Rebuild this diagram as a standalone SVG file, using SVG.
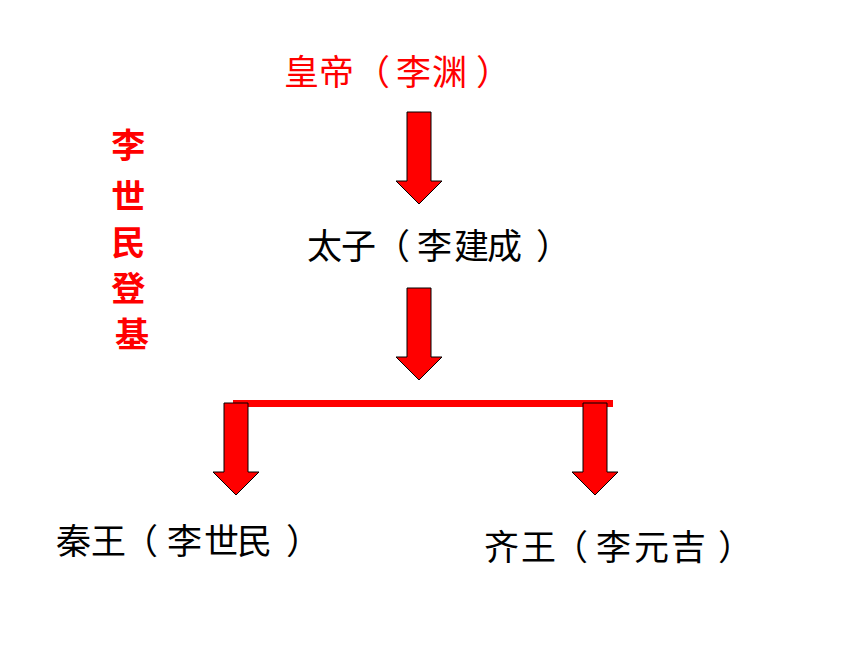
<svg xmlns="http://www.w3.org/2000/svg" width="860" height="645" viewBox="0 0 860 645">
<style>
.t{font-family:"Noto Sans CJK SC","Noto Sans CJK JP",sans-serif;font-size:35px;}
.red{fill:#ff0000;}
.blk{fill:#000000;}
.side{font-size:34px;font-weight:bold;}
.arrow{fill:#ff0000;stroke:#000000;stroke-width:1;}
.bar{fill:#ff0000;}
</style>
<defs>
<path id="arr" d="M -12 0 L 12 0 L 12 69 L 23 69 L 0 92 L -23 69 L -12 69 Z"/>
</defs>
<rect width="860" height="645" fill="#ffffff"/>
<g id="connectors">
<rect class="bar" x="233" y="400" width="380" height="7"/>
<use href="#arr" class="arrow" x="419" y="112"/>
<use href="#arr" class="arrow" x="419" y="288"/>
<use href="#arr" class="arrow" x="236" y="403"/>
<use href="#arr" class="arrow" x="595" y="403"/>
</g>
<g id="node-emperor"><text class="t red" x="284 319 355 396 432 476" y="85">皇帝（李渊）</text></g>
<g id="node-side"><text class="t red side" text-anchor="middle">
<tspan x="132" y="158">李</tspan>
<tspan x="132" y="209">世</tspan>
<tspan x="132" y="255">民</tspan>
<tspan x="132" y="301">登</tspan>
<tspan x="132" y="347">基</tspan>
</text></g>
<g id="node-crownprince"><text class="t blk" x="307 341 375 417 454 487 536" y="259">太子（李建成）</text></g>
<g id="node-qin"><text class="t blk" x="56 91 123 167 204 237 286" y="554">秦王（李世民）</text></g>
<g id="node-qi"><text class="t blk" x="484 521 553 596 634 671 718" y="560">齐王（李元吉）</text></g>
</svg>
